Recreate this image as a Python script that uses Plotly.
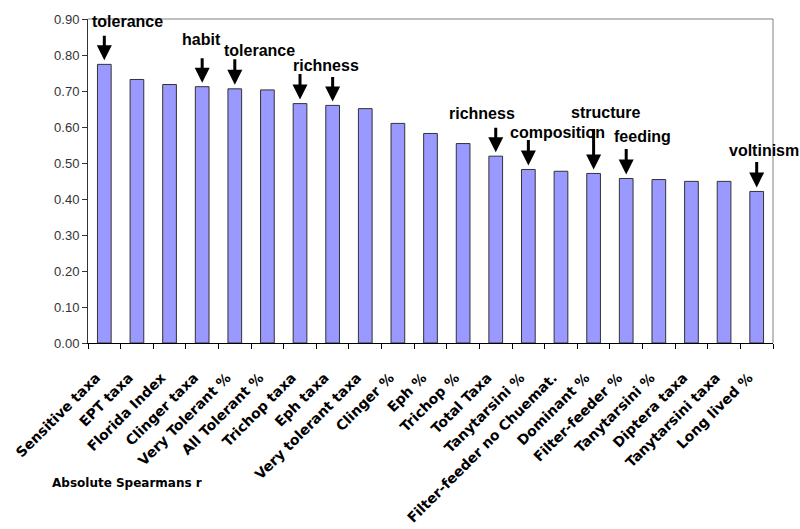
import plotly.graph_objects as go

categories = ["Sensitive taxa", "EPT taxa", "Florida Index", "Clinger taxa",
              "Very Tolerant %", "All Tolerant %", "Trichop taxa", "Eph taxa",
              "Very tolerant taxa", "Clinger %", "Eph %", "Trichop %", "Total Taxa",
              "Tanytarsini %", "Filter-feeder no Chuemat.", "Dominant %",
              "Filter-feeder %", "Tanytarsini %", "Diptera taxa", "Tanytarsini taxa",
              "Long lived %"]
values = [0.774, 0.732, 0.718, 0.712, 0.706, 0.703, 0.665, 0.660, 0.651, 0.610,
          0.582, 0.554, 0.519, 0.482, 0.477, 0.471, 0.457, 0.454, 0.449, 0.449, 0.421]
y_ticks = [0.0, 0.1, 0.2, 0.3, 0.4, 0.5, 0.6, 0.7, 0.8, 0.9]

# arrows: bar index and arrow length (px)
arrow_bars = [0, 3, 4, 6, 7, 12, 13, 15, 16, 20]
arrow_lengths = [26, 26, 27, 27, 26, 26, 27, 42, 27, 27]

# labels
label_texts = ["tolerance", "habit", "tolerance", "richness", "richness",
               "composition", "structure", "feeding", "voltinism"]
label_x = [0.72, 2.99, 4.75, 6.79, 11.58, 13.88, 15.35, 16.49, 20.22]
label_y = [0.886, 0.834, 0.804, 0.763, 0.628, 0.576, 0.631, 0.565, 0.527]

# make duplicate category names unique (invisible suffix)
seen = {}
keys = []
for c in categories:
    n = seen.get(c, 0)
    keys.append(c + "\u200b" * n)
    seen[c] = n + 1

W, H = 800, 529
ML, MR, MT, MB = 88, 27, 15, 186
plot_w = W - ML - MR
plot_h = H - MT - MB

fig = go.Figure()
fig.add_trace(go.Bar(
    x=keys, y=values,
    marker=dict(color="#9999FF", line=dict(color="#333333", width=1)),
))

annotations = []
for i, L in zip(arrow_bars, arrow_lengths):
    annotations.append(dict(
        x=i, y=values[i], xref="x", yref="y", text="",
        showarrow=True, ax=0, ay=-(L + 4), standoff=4,
        arrowhead=2, arrowsize=1, arrowwidth=3, arrowcolor="black",
    ))
for t, lx, ly in zip(label_texts, label_x, label_y):
    annotations.append(dict(
        x=lx, y=ly, xref="x", yref="y", text=t, showarrow=False, yshift=3,
        font=dict(family="Liberation Sans, Arial", size=16, color="black", weight="bold"),
        xanchor="center", yanchor="middle",
    ))
# 'Absolute Spearmans r' at page pixel (50, 485)
annotations.append(dict(
    x=(50 - ML) / plot_w, y=(H - MB - 485) / plot_h, xref="paper", yref="paper",
    text="Absolute Spearmans r",
    showarrow=False, font=dict(family="DejaVu Sans", size=12, color="black", weight="bold"),
    xanchor="left", yanchor="middle",
))

fig.update_layout(
    width=W, height=H,
    margin=dict(l=ML, r=MR, t=MT, b=MB),
    paper_bgcolor="white", plot_bgcolor="white",
    bargap=0.58,
    showlegend=False,
    annotations=annotations,
    shapes=[
        dict(type="line", xref="paper", yref="paper", x0=0, x1=1, y0=1, y1=1,
             line=dict(color="#808080", width=1)),
        dict(type="line", xref="paper", yref="paper", x0=1, x1=1, y0=0, y1=1,
             line=dict(color="#808080", width=1)),
    ],
)

fig.update_xaxes(
    type="category", range=[-0.5, len(categories) - 0.5], autorange=False,
    tickson="boundaries", ticks="outside", ticklen=5,
    tickcolor="black", showline=True, linecolor="black", linewidth=1,
    tickangle=-45, showgrid=False, automargin=False,
    ticklabelstandoff=20, ticklabelshift=-8,
    tickfont=dict(family="DejaVu Sans", size=14, color="black", weight="bold"),
)
fig.update_yaxes(
    range=[0, 0.9], autorange=False, tickvals=y_ticks, tickformat=".2f",
    ticks="outside", ticklen=5, ticklabeloverflow="allow",
    tickcolor="#333333", showline=True, linecolor="#333333", linewidth=1,
    showgrid=False, zeroline=False,
    tickfont=dict(family="Liberation Sans, Arial", size=13, color="#333333"),
)

fig.write_html("out.html",
               config={"displayModeBar": False},
               post_script="document.body.style.margin='0px';"
                           "document.body.style.overflow='hidden';")
